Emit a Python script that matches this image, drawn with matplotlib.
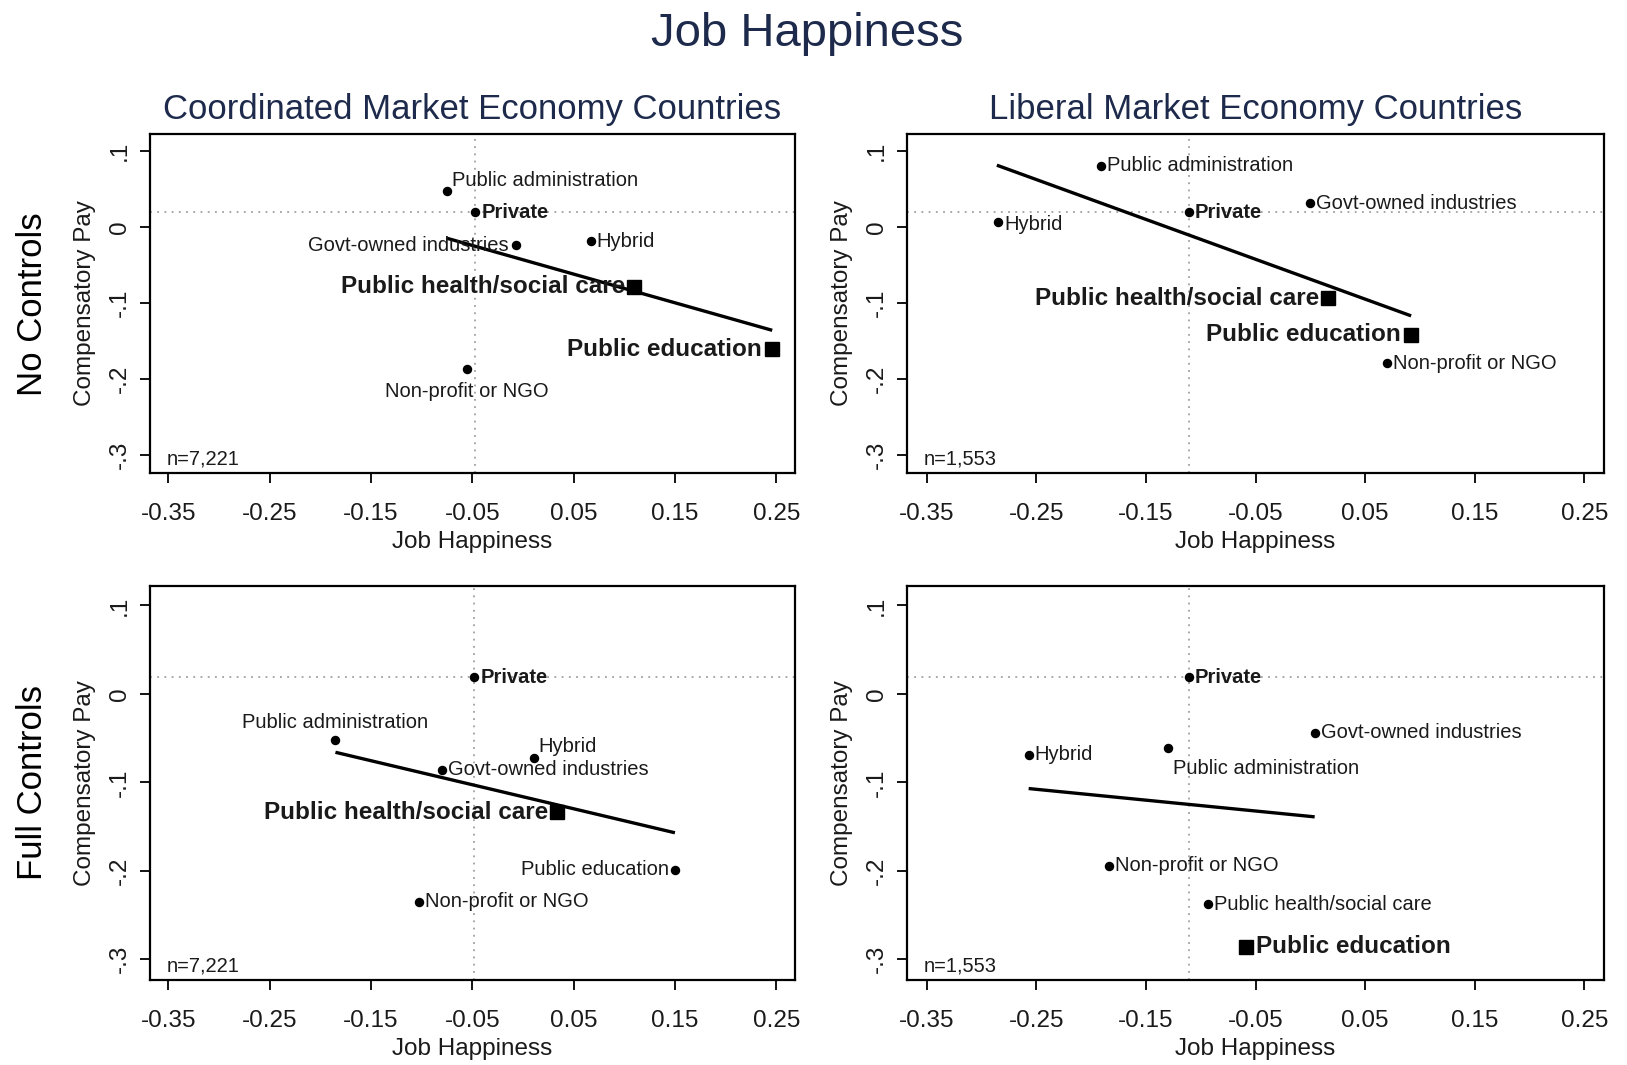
import matplotlib
matplotlib.use("Agg")
import matplotlib.pyplot as plt

plt.rcParams['font.family'] = ['Liberation Sans', 'DejaVu Sans']

# ---------------- data ----------------
sectors = ["Private", "Public administration", "Govt-owned industries", "Hybrid",
           "Public health/social care", "Public education", "Non-profit or NGO"]

cme_nc_x = [-0.047, -0.075, -0.007, 0.067, 0.110, 0.246, -0.055]
cme_nc_y = [0.019, 0.047, -0.024, -0.019, -0.079, -0.161, -0.187]
lme_nc_x = [-0.111, -0.191, 0.000, -0.285, 0.016, 0.092, 0.070]
lme_nc_y = [0.019, 0.080, 0.031, 0.006, -0.094, -0.142, -0.179]
cme_fc_x = [-0.048, -0.185, -0.080, 0.011, 0.034, 0.150, -0.103]
cme_fc_y = [0.019, -0.052, -0.086, -0.072, -0.134, -0.199, -0.235]
lme_fc_x = [-0.111, -0.130, 0.004, -0.257, -0.093, -0.059, -0.184]
lme_fc_y = [0.019, -0.061, -0.044, -0.069, -0.238, -0.286, -0.194]

cme_nc_fit_x = [-0.075, 0.246]
cme_nc_fit_y = [-0.015, -0.136]
lme_nc_fit_x = [-0.286, 0.092]
lme_nc_fit_y = [0.081, -0.117]
cme_fc_fit_x = [-0.185, 0.150]
cme_fc_fit_y = [-0.066, -0.157]
lme_fc_fit_x = [-0.257, 0.004]
lme_fc_fit_y = [-0.107, -0.139]

cme_nc_emph = ["Public health/social care", "Public education"]
lme_nc_emph = ["Public health/social care", "Public education"]
cme_fc_emph = ["Public health/social care"]
lme_fc_emph = ["Public education"]

n_cme = "n=7,221"
n_lme = "n=1,553"

x_ticks = [-0.35, -0.25, -0.15, -0.05, 0.05, 0.15, 0.25]
x_tick_labels = ["-0.35", "-0.25", "-0.15", "-0.05", "0.05", "0.15", "0.25"]
y_ticks = [0.1, 0.0, -0.1, -0.2, -0.3]
y_tick_labels = [".1", "0", "-.1", "-.2", "-.3"]

main_title = "Job Happiness"
col_titles = ["Coordinated Market Economy Countries", "Liberal Market Economy Countries"]
row_titles = ["No Controls", "Full Controls"]
x_label = "Job Happiness"
y_label = "Compensatory Pay"

# ---------------- label placement (style) ----------------
# (dx px, dy px, ha)
R = (6, 0, 'left')
L = (-9, 0, 'right')
place_cme_nc = {"Private": R, "Public administration": (5, 11, 'left'),
                "Govt-owned industries": (-7, 0, 'right'), "Hybrid": R,
                "Public health/social care": L, "Public education": (-10, 0, 'right'),
                "Non-profit or NGO": (0, -22, 'center')}
place_lme_nc = {"Private": R, "Public administration": R,
                "Govt-owned industries": R, "Hybrid": (6, -2, 'left'),
                "Public health/social care": L, "Public education": (-10, 0, 'right'),
                "Non-profit or NGO": R}
place_cme_fc = {"Private": R, "Public administration": (0, 17, 'center'),
                "Govt-owned industries": R, "Hybrid": (4, 11, 'left'),
                "Public health/social care": L, "Public education": (-6, 0, 'right'),
                "Non-profit or NGO": R}
place_lme_fc = {"Private": R, "Public administration": (5, -21, 'left'),
                "Govt-owned industries": R, "Hybrid": R,
                "Public health/social care": R, "Public education": (10, 0, 'left'),
                "Non-profit or NGO": R}

W, H = 1627, 1065
fig = plt.figure(figsize=(W / 100, H / 100), dpi=100)
fig.patch.set_facecolor('white')

navy = '#1d2a4b'
txt = '#1a1a1a'
PX = 0.72  # points per pixel


def fr(x0, y0, x1, y1):
    return [x0 / W, 1 - y1 / H, (x1 - x0) / W, (y1 - y0) / H]


boxes = [fr(150, 134, 794.5, 472.6), fr(907, 134, 1604, 472.6),
         fr(150, 586, 794.5, 979.6), fr(907, 586, 1604, 979.6)]

panels = [
    (cme_nc_x, cme_nc_y, cme_nc_fit_x, cme_nc_fit_y, cme_nc_emph, place_cme_nc, n_cme),
    (lme_nc_x, lme_nc_y, lme_nc_fit_x, lme_nc_fit_y, lme_nc_emph, place_lme_nc, n_lme),
    (cme_fc_x, cme_fc_y, cme_fc_fit_x, cme_fc_fit_y, cme_fc_emph, place_cme_fc, n_cme),
    (lme_fc_x, lme_fc_y, lme_fc_fit_x, lme_fc_fit_y, lme_fc_emph, place_lme_fc, n_lme),
]

for box, (xs, ys, fx, fy, emph, place, nlab) in zip(boxes, panels):
    ax = fig.add_axes(box)
    ax.set_xlim(-0.368, 0.268)
    ax.set_ylim(-0.323, 0.122)
    # reference lines through the Private point
    ax.axhline(ys[0], color='#a0a0a0', lw=1.3, ls=(0, (1, 3)), zorder=1)
    ax.axvline(xs[0], color='#a0a0a0', lw=1.3, ls=(0, (1, 3)), zorder=1)
    ax.plot(fx, fy, color='black', lw=2.4, zorder=2, solid_capstyle='butt')
    for name, x, y in zip(sectors, xs, ys):
        big = name in emph
        if big:
            ax.plot([x], [y], marker='s', ms=10.5, color='black', ls='none', zorder=3)
            fs, fw = 17.5, 'bold'
        else:
            ax.plot([x], [y], marker='o', ms=5.8, color='black', ls='none', zorder=3)
            fs = 14.5
            fw = 'bold' if name == "Private" else 'normal'
        dx, dy, ha = place[name]
        ax.annotate(name, (x, y), xytext=(dx * PX, dy * PX), textcoords='offset points',
                    ha=ha, va='center', fontsize=fs, fontweight=fw, color=txt, zorder=4)
    ax.text(17 / (box[2] * W), 14 / (box[3] * H), nlab, transform=ax.transAxes,
            ha='left', va='center', fontsize=14.5, color=txt)
    ax.set_xticks(x_ticks)
    ax.set_xticklabels(x_tick_labels, fontsize=17.5, color=txt)
    ax.set_yticks(y_ticks)
    ax.set_yticklabels(y_tick_labels, fontsize=17.5, color=txt, rotation=90,
                       va='center', ha='right')
    ax.tick_params(axis='both', direction='out', length=7, width=1.3, colors='black',
                   labelcolor=txt)
    ax.tick_params(axis='x', pad=15)
    ax.tick_params(axis='y', pad=7)
    for s in ax.spines.values():
        s.set_linewidth(1.6)
        s.set_color('black')
    ax.set_xlabel(x_label, fontsize=17.5, color=txt, labelpad=4)
    ax.set_ylabel(y_label, fontsize=17.5, color=txt, labelpad=9)

fig.text(807 / W, 1 - 34 / H, main_title, ha='center', va='center', fontsize=34, color=navy)
fig.text(472 / W, 1 - 109 / H, col_titles[0], ha='center', va='center', fontsize=25, color=navy)
fig.text(1256 / W, 1 - 109 / H, col_titles[1], ha='center', va='center', fontsize=25, color=navy)
fig.text(33 / W, 1 - 304 / H, row_titles[0], ha='center', va='center', fontsize=25,
         rotation=90, color='black')
fig.text(33 / W, 1 - 783 / H, row_titles[1], ha='center', va='center', fontsize=25,
         rotation=90, color='black')

fig.savefig('out.png', dpi=100, facecolor='white')
